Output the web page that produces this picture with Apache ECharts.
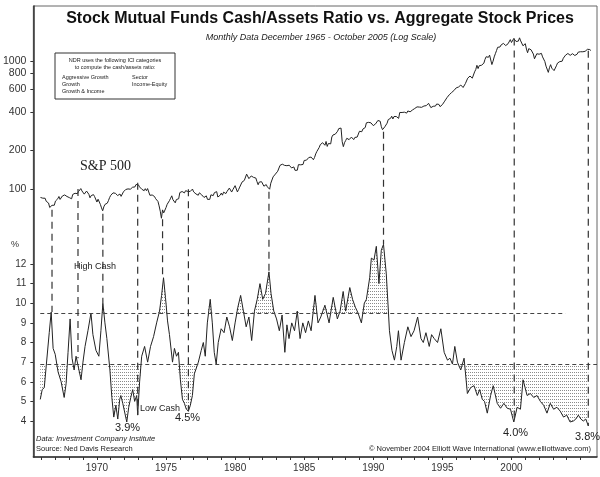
<!DOCTYPE html>
<html><head><meta charset="utf-8">
<script src="https://cdn.jsdelivr.net/npm/echarts@6/dist/echarts.min.js"></script>
<style>html,body{margin:0;padding:0;background:#fff}#c{width:600px;height:477px}</style>
</head><body><div id="c"></div>
<script>
// ---- data ----
const spStart = 1965 + 11/12; // Dec 1965, monthly
const spx = [85.9,
86.4,84.8,83.0,84.7,80.1,78.8,77.7,71.7,71.2,74.6,74.9,74.7,
80.5,80.7,83.9,87.4,82.9,84.3,88.2,87.0,89.9,86.8,87.4,89.7,
85.7,83.1,83.9,90.7,91.8,92.6,90.9,92.0,95.5,96.2,100.8,96.6,
95.8,91.2,94.4,96.4,96.3,90.9,85.4,88.8,86.6,90.4,87.2,85.7,
79.1,83.2,83.3,75.8,71.2,67.6,72.6,75.8,78.4,77.5,81.1,85.7,
89.2,90.2,93.3,96.6,92.6,92.7,88.9,92.1,91.4,87.6,87.4,95.0,
96.6,99.1,99.7,100.2,101.8,99.6,99.9,103.3,102.9,103.8,108.5,109.8,
107.9,103.9,103.7,99.5,97.6,97.0,100.6,97.0,100.8,100.7,89.3,90.7,
89.8,89.5,87.4,84.0,81.2,80.0,73.8,67.1,59.1,68.7,65.1,63.8,
71.6,75.9,77.5,81.2,84.8,88.5,82.5,80.8,78.0,82.8,84.9,83.9,
93.8,92.7,95.6,94.5,93.2,97.0,96.2,95.7,97.9,95.7,94.9,99.9,
94.9,92.8,91.5,91.5,89.4,93.4,91.9,90.0,89.8,85.9,88.2,88.4,
83.0,80.9,83.0,90.1,90.4,88.8,93.6,96.1,95.4,86.6,88.1,89.4,
92.9,89.5,94.5,94.6,92.1,95.7,96.5,101.7,101.7,94.7,98.7,100.4,
106.2,105.7,94.9,98.9,103.5,106.2,113.2,113.8,116.7,118.5,130.7,126.3,
120.5,122.1,126.5,123.5,123.3,122.0,121.8,114.2,108.0,113.4,117.5,114.0,
112.0,105.2,104.1,108.3,104.0,101.9,99.6,111.1,112.0,124.4,128.8,130.8,
135.1,137.7,142.3,152.9,151.0,156.3,151.2,152.9,154.4,152.1,154.8,153.4,
152.0,146.1,148.0,148.8,140.0,142.5,140.1,155.0,154.5,154.5,152.1,155.5,
167.1,168.5,168.0,167.2,176.3,178.4,177.6,175.4,169.3,176.5,188.0,196.5,
197.0,211.0,222.2,219.0,230.0,233.3,219.6,235.2,215.1,226.9,231.8,225.2,
254.9,264.3,271.3,268.2,269.8,282.7,296.4,306.7,299.3,234.2,214.2,229.8,
239.1,249.1,240.8,243.0,243.8,254.4,253.0,243.2,252.9,259.4,254.5,258.3,
282.6,274.5,280.2,294.1,304.5,302.1,328.8,333.9,331.7,323.4,328.7,335.7,
312.6,315.3,322.9,314.3,343.1,340.1,338.4,306.5,290.8,288.8,306.1,313.7,
326.7,348.7,356.4,356.6,370.3,352.6,368.4,375.6,368.5,372.9,356.4,396.2,
392.4,396.2,387.6,398.4,398.8,391.8,407.2,397.4,401.1,402.0,414.1,418.3,
425.6,430.1,438.1,427.0,436.7,437.0,434.7,449.7,445.1,453.8,447.9,452.5,
467.2,453.1,432.4,437.4,442.8,431.0,444.6,461.2,448.8,458.2,440.1,445.5,
456.3,472.8,485.7,499.3,517.4,528.5,545.2,545.0,566.9,564.1,587.2,597.4,
616.9,621.2,626.1,634.6,649.0,650.5,620.8,632.4,666.7,684.1,734.3,718.5,
762.6,767.1,734.4,777.3,822.9,858.5,925.7,872.5,918.9,887.2,926.7,941.3,
960.7,1028.3,1079.8,1089.6,1069.0,1111.1,1098.3,938.2,996.7,1076.7,1140.3,1204.6,
1279.6,1238.3,1286.4,1335.2,1301.8,1372.7,1328.7,1320.4,1282.7,1362.9,1388.9,1469.3,
1394.5,1366.4,1498.6,1452.4,1420.6,1454.6,1430.8,1517.7,1436.5,1429.4,1315.0,1320.3,
1366.0,1239.9,1160.3,1249.5,1255.8,1224.4,1211.2,1133.6,1040.9,1059.8,1139.5,1148.1,
1130.2,1106.7,1147.4,1076.9,1067.1,989.8,911.6,916.1,815.3,885.8,936.3,879.8,
855.7,841.2,848.2,916.9,963.6,974.5,990.3,1008.0,996.0,1050.7,1058.2,1111.9,
1131.1,1144.9,1126.2,1107.3,1120.7,1140.8,1101.7,1104.2,1114.6,1130.2,1173.8,1211.9,
1181.3,1203.6,1180.6,1156.9,1191.5,1191.3,1234.2,1220.3,1228.8,1207.0];

const cashDates = [
1965.90,1966.04,1966.19,1966.33,1966.55,1966.69,1966.83,1966.98,1967.19,1967.41,
1967.63,1967.77,1967.91,1968.06,1968.20,1968.35,1968.49,1968.63,1968.85,1968.99,
1969.14,1969.35,1969.57,1969.71,1969.93,1970.14,1970.29,1970.43,1970.58,1970.72,
1970.94,1971.08,1971.22,1971.37,1971.51,1971.65,1971.73,1971.87,1972.01,1972.16,
1972.30,1972.45,1972.59,1972.73,1972.88,1972.95,1973.09,1973.24,1973.45,1973.67,
1973.88,1974.10,1974.32,1974.53,1974.68,1974.82,1974.96,1975.11,1975.25,1975.47,
1975.61,1975.76,1975.90,1976.04,1976.19,1976.33,1976.47,1976.62,1976.76,1976.91,
1977.05,1977.19,1977.34,1977.55,1977.70,1977.84,1977.99,1978.20,1978.35,1978.49,
1978.63,1978.78,1978.99,1979.20,1979.40,1979.60,1979.80,1980.00,1980.20,1980.40,
1980.60,1980.80,1981.00,1981.20,1981.40,1981.60,1981.80,1982.00,1982.20,1982.45,
1982.60,1982.80,1983.00,1983.20,1983.40,1983.60,1983.75,1983.90,1984.10,1984.30,
1984.50,1984.70,1984.90,1985.10,1985.30,1985.50,1985.78,1986.00,1986.20,1986.50,
1986.80,1987.10,1987.40,1987.60,1987.82,1988.00,1988.30,1988.50,1988.70,1988.90,
1989.14,1989.35,1989.50,1989.74,1989.86,1990.05,1990.22,1990.41,1990.58,1990.74,
1990.94,1991.10,1991.17,1991.35,1991.53,1991.70,1991.82,1992.01,1992.25,1992.50,
1992.73,1992.95,1993.21,1993.45,1993.62,1993.81,1994.05,1994.22,1994.41,1994.65,
1994.89,1995.13,1995.37,1995.55,1995.73,1995.90,1996.09,1996.33,1996.57,1996.81,
1997.05,1997.29,1997.53,1997.70,1997.89,1998.05,1998.25,1998.49,1998.68,1998.97,
1999.21,1999.45,1999.69,1999.93,2000.17,2000.41,2000.65,2000.84,2001.13,2001.37,
2001.61,2001.85,2002.09,2002.33,2002.57,2002.81,2003.05,2003.29,2003.53,2003.77,
2004.00,2004.24,2004.48,2004.66,2004.84,2005.02,2005.20,2005.38,2005.56];
const cashValues = [
5.1,5.6,5.7,6.8,8.5,9.55,7.7,7.4,6.5,6.0,
5.2,5.9,7.5,9.2,7.2,6.6,7.3,7.2,6.1,7.0,
7.8,8.6,9.5,8.4,7.6,7.3,8.6,10.0,9.0,8.2,
6.6,5.2,4.2,4.8,4.1,5.1,5.3,4.9,5.0,3.95,
4.7,5.2,5.6,5.0,5.3,4.3,6.0,7.3,7.8,7.0,
7.8,8.3,9.0,9.6,10.4,11.3,10.3,9.1,8.4,7.0,
7.7,7.3,7.5,6.1,5.1,4.9,4.6,4.5,4.8,5.3,
6.4,6.3,7.0,7.6,8.0,7.3,9.0,10.2,9.0,7.5,
6.9,8.0,8.7,8.5,9.3,8.8,8.1,9.0,9.8,10.4,
9.6,8.8,9.3,8.1,9.6,10.2,11.0,10.2,10.5,11.6,
10.5,9.6,9.2,8.6,9.4,7.5,8.9,8.2,9.0,8.6,
9.6,8.2,9.0,8.5,9.1,8.6,10.4,9.0,9.3,9.9,
9.0,10.3,9.2,9.6,10.6,9.6,10.8,10.2,9.8,9.5,
9.0,10.0,10.2,11.3,12.3,12.2,12.9,11.0,12.7,13.0,
11.5,9.5,8.6,7.6,7.1,7.8,8.6,7.1,8.0,8.8,
8.3,8.6,9.3,8.2,8.0,8.5,7.8,8.4,8.2,8.0,
8.7,7.5,7.1,7.2,6.9,7.8,7.0,6.6,7.2,5.4,
5.7,5.8,5.3,5.6,5.1,5.0,4.4,5.3,5.8,4.9,
4.65,4.9,4.65,4.6,3.95,4.7,4.6,6.1,5.3,5.4,
5.2,5.3,5.0,4.8,4.4,4.9,4.6,4.7,4.5,4.2,
4.3,3.95,4.0,4.1,4.3,4.1,4.0,4.1,3.75];

const spTicks = [100,200,400,600,800,1000];
const cashTicks = [4,5,6,7,8,9,10,11,12];
const yearTicks = [1966,1967,1968,1969,1970,1971,1972,1973,1974,1975,1976,1977,1978,1979,1980,1981,1982,1983,1984,1985,1986,1987,1988,1989,1990,1991,1992,1993,1994,1995,1996,1997,1998,1999,2000,2001,2002,2003,2004,2005];
const yearLabels = [1970,1975,1980,1985,1990,1995,2000];
const highCash = 9.5, lowCash = 6.9;
const highLineEnd = 2003.9;
// turning-point markers: date, S&P value, cash value
const markerDates = [1966.75,1968.63,1970.43,1972.95,1974.75,1976.62,1982.45,1990.74,2000.2,2005.56];
const markerSpx   = [69,100,64,112,58,99.5,95,280,1500,1200];
const markerCash  = [9.55,7.2,10.0,4.3,11.3,4.5,11.6,13.0,3.95,3.75];

// ---- chart ----
const chart = echarts.init(document.getElementById('c'), null, {renderer:'canvas'});
const pat = document.createElement('canvas');
pat.width = 2; pat.height = 3;
const pctx = pat.getContext('2d');
pctx.fillStyle = '#8a8a8a'; pctx.fillRect(0,0,1,1);

const spData = spx.map((v,i)=>[spStart + i/12, v]);
const cashData = cashDates.map((d,i)=>[d, cashValues[i]]);
const hiData = cashDates.map((d,i)=>[d, Math.max(cashValues[i], highCash)]);
const loData = cashDates.map((d,i)=>[d, Math.min(cashValues[i], lowCash)]);

const axisTxt = {color:'#333', fontFamily:'Liberation Sans', fontSize:10.5};
const option = {
  animation:false,
  grid:{left:30, right:3, top:6, bottom:20, show:true, borderColor:'#666', borderWidth:1},
  xAxis:{type:'value', min:1965.40, max:2006.19,
    axisLine:{show:true, lineStyle:{color:'#333', width:1.5}},
    axisTick:{show:true, length:3, lineStyle:{color:'#333'}, customValues:yearTicks},
    axisLabel:{...axisTxt, fontSize:10, margin:6, customValues:yearLabels, formatter:v=>String(Math.round(v))},
    splitLine:{show:false}},
  yAxis:[
    {type:'log', min:0.806, max:2690, position:'left',
     axisLine:{show:true, lineStyle:{color:'#333', width:1.5}},
     axisTick:{show:true, length:3, lineStyle:{color:'#333'}, customValues:spTicks},
     axisLabel:{...axisTxt, margin:7, customValues:spTicks, formatter:v=>String(Math.round(v))},
     splitLine:{show:false}},
    {type:'value', min:2.166, max:25.146, position:'left',
     axisLine:{show:false},
     axisTick:{show:true, length:3, lineStyle:{color:'#333'}, customValues:cashTicks},
     axisLabel:{...axisTxt, fontSize:10, margin:7, customValues:cashTicks, formatter:v=>String(Math.round(v))},
     splitLine:{show:false}}
  ],
  series:[
    {type:'line', name:'hiFill', yAxisIndex:1, data:hiData, showSymbol:false, silent:true,
     lineStyle:{width:0, opacity:0}, areaStyle:{origin:highCash, color:{image:pat, repeat:'repeat'}, opacity:1}},
    {type:'line', name:'loFill', yAxisIndex:1, data:loData, showSymbol:false, silent:true,
     lineStyle:{width:0, opacity:0}, areaStyle:{origin:lowCash, color:{image:pat, repeat:'repeat'}, opacity:1}},
    {type:'line', name:'S&P 500', yAxisIndex:0, data:spData, showSymbol:false, silent:true,
     lineStyle:{width:1, color:'#222'}},
    {type:'line', name:'Cash', yAxisIndex:1, data:cashData, showSymbol:false, silent:true,
     lineStyle:{width:1, color:'#222'},
     markLine:{silent:true, symbol:'none', label:{show:false},
       lineStyle:{type:[4,3], color:'#444', width:1},
       data:[
         [{coord:[cashDates[0], highCash]},{coord:[highLineEnd, highCash]}],
         [{coord:[cashDates[0], lowCash]},{coord:[2006.19, lowCash]}]
       ]}}
  ]
};
chart.setOption(option);

const gr = [];
for (let i=0;i<markerDates.length;i++){
  const p1 = chart.convertToPixel({xAxisIndex:0, yAxisIndex:0}, [markerDates[i], markerSpx[i]]);
  const p2 = chart.convertToPixel({xAxisIndex:0, yAxisIndex:1}, [markerDates[i], markerCash[i]]);
  gr.push({type:'line', shape:{x1:p1[0], y1:p1[1], x2:p2[0], y2:p2[1]},
    style:{stroke:'#333', lineWidth:1.2, lineDash:[7,5]}, z:50});
}
const T = (x,y,text,font,extra)=>Object.assign({type:'text', x, y, z:60,
  style:Object.assign({text, font, fill:'#222', textVerticalAlign:'middle'}, extra||{})});
gr.push(T(320,19,'Stock Mutual Funds Cash/Assets Ratio vs. Aggregate Stock Prices','bold 16px "Liberation Sans"',{textAlign:'center', fill:'#111'}));
gr.push(T(321,37,'Monthly Data December 1965 - October 2005 (Log Scale)','italic 9px "Liberation Sans"',{textAlign:'center'}));
gr.push({type:'rect', shape:{x:55, y:53, width:120, height:46}, style:{fill:'#fff', stroke:'#333', lineWidth:1}, z:55});
gr.push(T(115,60,'NDR uses the following ICI categories','5.5px "Liberation Sans"',{textAlign:'center'}));
gr.push(T(115,67,'to compute the cash/assets ratio:','5.5px "Liberation Sans"',{textAlign:'center'}));
gr.push(T(62,77,'Aggressive Growth','5.5px "Liberation Sans"'));
gr.push(T(62,84,'Growth','5.5px "Liberation Sans"'));
gr.push(T(62,91,'Growth & Income','5.5px "Liberation Sans"'));
gr.push(T(132,77,'Sector','5.5px "Liberation Sans"'));
gr.push(T(132,84,'Income-Equity','5.5px "Liberation Sans"'));
gr.push(T(80,166,'S&P 500','14px "Liberation Serif"'));
gr.push(T(11,245,'%','9px "Liberation Sans"',{fill:'#333'}));
gr.push(T(74,267,'High Cash','9px "Liberation Sans"'));
gr.push(T(140,409,'Low Cash','9px "Liberation Sans"'));
gr.push(T(115,428,'3.9%','11px "Liberation Sans"'));
gr.push(T(175,418,'4.5%','11px "Liberation Sans"'));
gr.push(T(503,433,'4.0%','11px "Liberation Sans"'));
gr.push(T(575,437,'3.8%','11px "Liberation Sans"'));
gr.push(T(36,439,'Data: Investment Company Institute','italic 7.5px "Liberation Sans"'));
gr.push(T(36,449,'Source: Ned Davis Research','7.5px "Liberation Sans"'));
gr.push(T(369,449,'\u00a9 November 2004 Elliott Wave International (www.elliottwave.com)','7.5px "Liberation Sans"'));
chart.setOption({graphic:gr});
</script></body></html>
